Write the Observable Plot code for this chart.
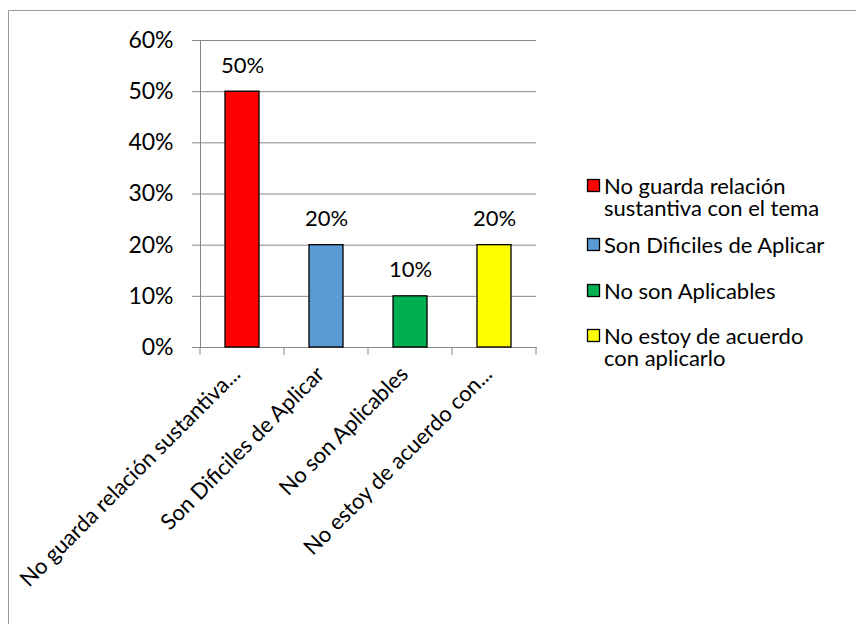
<!DOCTYPE html>
<html>
<head>
<meta charset="utf-8">
<script src="https://cdn.jsdelivr.net/npm/d3@7"></script>
<script src="https://cdn.jsdelivr.net/npm/@observablehq/plot@0.6"></script>
<style>
  html, body { margin: 0; padding: 0; background: #fff; }
  #chart { width: 856px; height: 624px; }
</style>
</head>
<body>
<div id="chart"></div>
<script>
const categories = [
  "No guarda relación sustantiva con el tema",
  "Son Dificiles de Aplicar",
  "No son Aplicables",
  "No estoy de acuerdo con aplicarlo"
];
const axisLabels = [
  "No guarda relación sustantiva...",
  "Son Dificiles de Aplicar",
  "No son Aplicables",
  "No estoy de acuerdo con..."
];
const values = [0.5, 0.2, 0.1, 0.2];
const valueLabels = ["50%", "20%", "10%", "20%"];
const colors = ["#FF0000", "#5B9BD5", "#00B050", "#FFFF00"];
const yTicks = [0, 0.1, 0.2, 0.3, 0.4, 0.5, 0.6];
const legendLines = [
  ["No guarda relación", "sustantiva con el tema"],
  ["Son Dificiles de Aplicar"],
  ["No son Aplicables"],
  ["No estoy de acuerdo", "con aplicarlo"]
];

const data = categories.map((c, i) => ({cat: c, value: values[i], label: valueLabels[i], axis: axisLabels[i], color: colors[i]}));
const FONT = "Lato, 'Open Sans', sans-serif";
const GRID = "#868686";

const plot = Plot.plot({
  width: 856,
  height: 624,
  marginLeft: 200,
  marginRight: 320,
  marginTop: 40,
  marginBottom: 277,
  style: {fontFamily: FONT, fontSize: "22px", color: "#000", background: "#fff"},
  x: {domain: categories, paddingInner: 0.595, paddingOuter: 0.2975, align: 0.5, axis: null},
  y: {domain: [0, 0.6], axis: null},
  marks: [
    Plot.ruleY(yTicks, {stroke: GRID, strokeWidth: 1}),
    Plot.axisY({ticks: yTicks, tickFormat: d3.format(".0%"), tickSize: 8, tickPadding: 19, stroke: GRID, fontSize: 23, fill: "#000", label: null}),
    Plot.frame({anchor: "left", stroke: GRID}),
    Plot.frame({anchor: "bottom", stroke: GRID}),
    Plot.barY(data, {x: "cat", y: "value", fill: "color", stroke: "#000", strokeWidth: 1.3}),
    Plot.text(data, {x: "cat", y: "value", text: "label", dy: -26, fontSize: 22, fill: "#000"}),
    Plot.text(data, {x: "cat", text: "axis", frameAnchor: "bottom", textAnchor: "end", rotate: -45, dx: -12, dy: 17, fontSize: 22, fill: "#000", lineAnchor: "top"})
  ]
});

document.getElementById("chart").appendChild(plot);

const svg = d3.select(plot);
const xs = plot.scale("x");
const ys = plot.scale("y");
const y0 = ys.apply(0);
const gap = xs.step - xs.bandwidth;
const bounds = categories.map(c => xs.apply(c) - gap / 2);
bounds.push(xs.apply(categories[categories.length - 1]) + xs.bandwidth + gap / 2);
svg.append("g").selectAll("line").data(bounds).join("line")
  .attr("x1", d => d).attr("x2", d => d)
  .attr("y1", y0).attr("y2", y0 + 8)
  .attr("stroke", GRID);

// outer chart border (top and left visible)
svg.append("line").attr("x1", 8.5).attr("x2", 856).attr("y1", 10.5).attr("y2", 10.5).attr("stroke", "#999");
svg.append("line").attr("x1", 8.5).attr("x2", 8.5).attr("y1", 10.5).attr("y2", 624).attr("stroke", "#999");

// legend
const legendTop = [186, 245, 291, 336];
const lg = svg.append("g").attr("font-family", FONT).attr("font-size", 22).attr("text-anchor", "start");
legendLines.forEach((lines, i) => {
  const cy = legendTop[i];
  lg.append("rect").attr("x", 587.5).attr("y", cy - 6.5).attr("width", 12).attr("height", 12)
    .attr("fill", colors[i]).attr("stroke", "#000").attr("stroke-width", 1.3);
  lines.forEach((t, j) => {
    lg.append("text").attr("x", 604).attr("y", cy + j * 22).attr("dy", "0.35em").attr("fill", "#000").text(t);
  });
});
</script>
</body>
</html>
